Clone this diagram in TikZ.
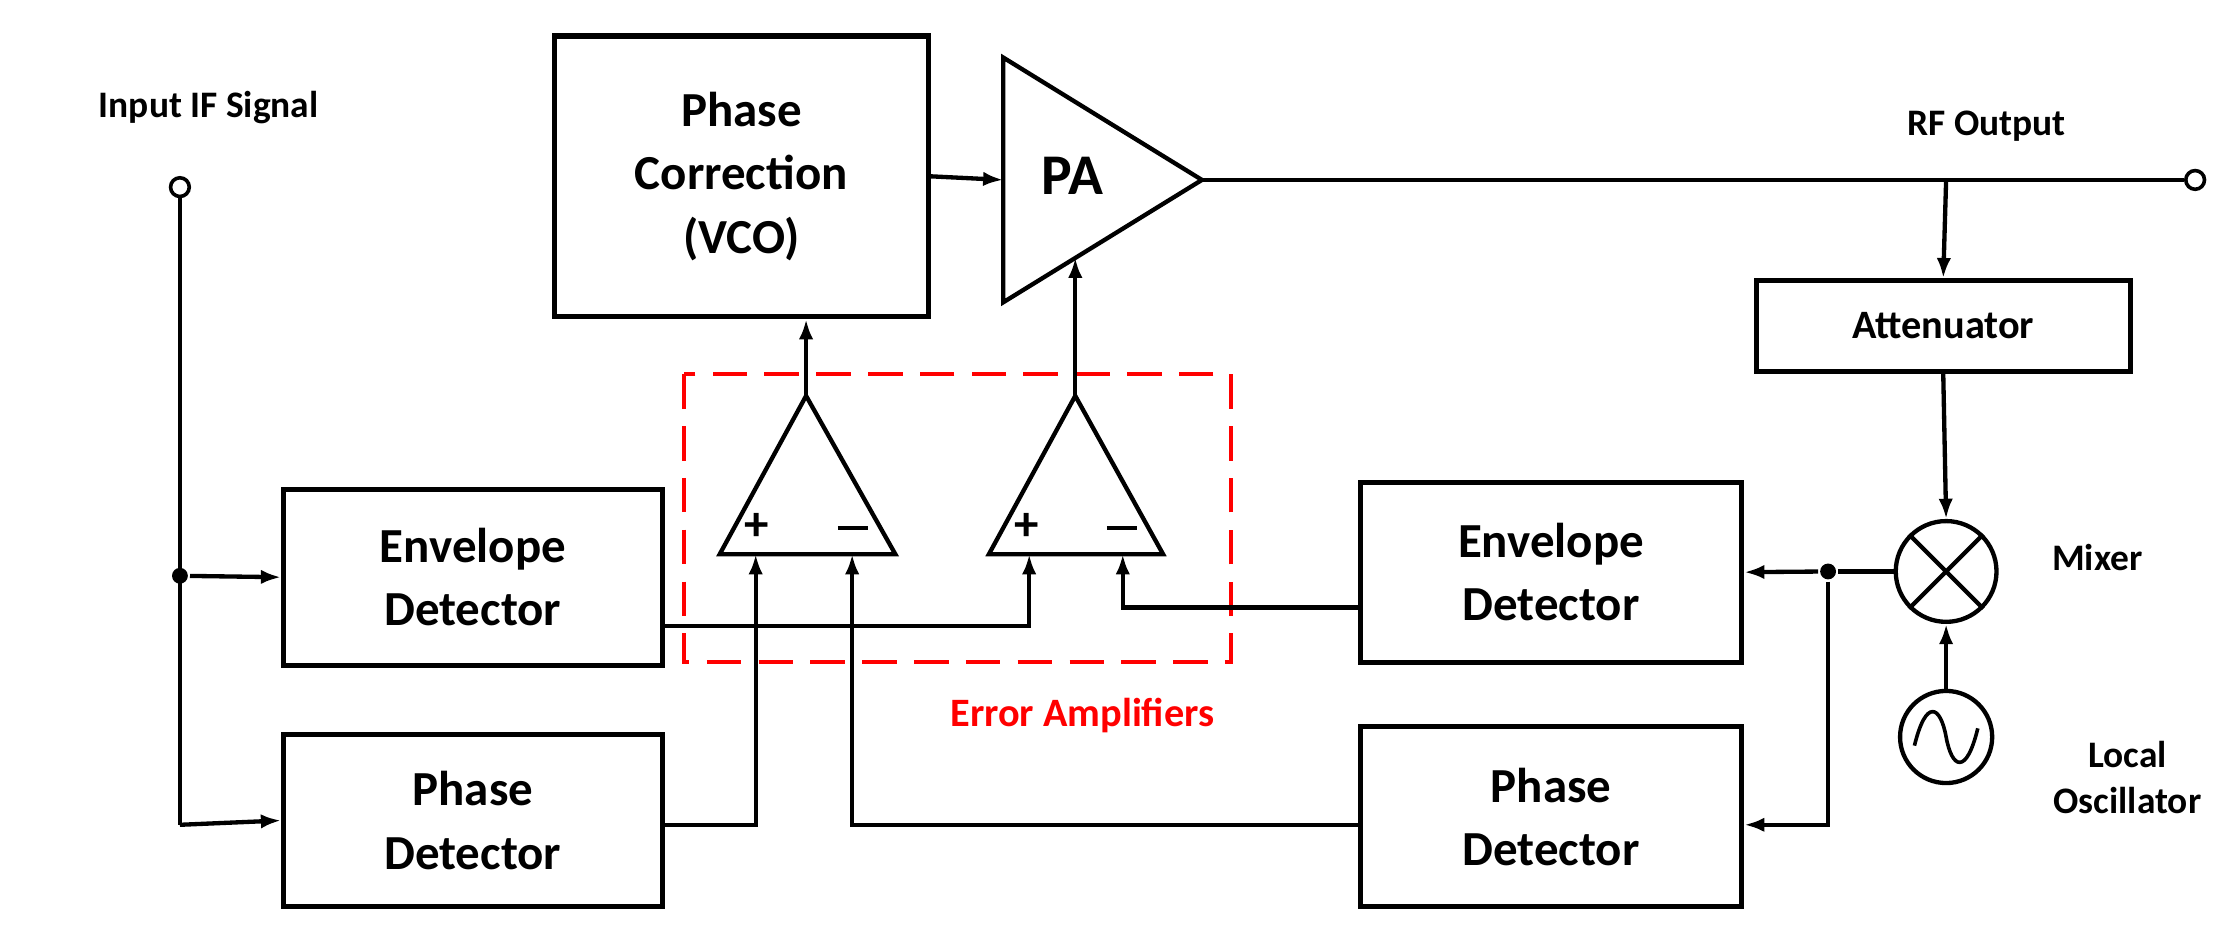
\documentclass[tikz,border=0pt]{standalone}
\usepackage{fontspec}
\setmainfont{Carlito}
\usetikzlibrary{arrows.meta}
\begin{document}
\begin{tikzpicture}[x=1pt,y=-1pt,line width=3pt,
  box/.style={draw,line width=3.5pt,align=center,font=\fontsize{34}{44}\selectfont\bfseries,inner sep=0},
  lab/.style={font=\fontsize{26}{32}\selectfont\bfseries,align=center},
  arr/.style={-{Latex[length=14pt,width=10pt]}},
  dot/.style={circle,fill,inner sep=0,minimum size=11pt},
  sgn/.style={font=\fontsize{34}{40}\selectfont\bfseries}]
\useasboundingbox (0,0) rectangle (1552,650);
% boxes
\node[box,minimum width=263pt,minimum height=122pt] (ed1) at (328.5,401) {Envelope\\Detector};
\node[box,minimum width=263pt,minimum height=120pt] (pd1) at (328.5,570) {Phase\\Detector};
\node[box,minimum width=260pt,minimum height=195pt] (vco) at (515,122.5) {Phase\\Correction\\(VCO)};
\node[box,minimum width=265pt,minimum height=125pt] (ed2) at (1077.5,397.5) {Envelope\\Detector};
\node[box,minimum width=265pt,minimum height=125pt] (pd2) at (1077.5,567.5) {Phase\\Detector};
\node[box,minimum width=260pt,minimum height=63pt,font=\fontsize{28}{34}\selectfont\bfseries] (att) at (1350,226.5) {Attenuator};
% PA
\draw[line width=3pt] (697,40) -- (835,125) -- (697,210) -- cycle;
\node[font=\fontsize{40}{48}\selectfont\bfseries] (pa) at (745,122) {PA};
\coordinate (paout) at (835,125);
\coordinate (pain) at (697,125);
\coordinate (pabot) at (747,179);
% terminals
\node[circle,draw,line width=2.5pt,inner sep=0,minimum size=13pt] (tin) at (125,130) {};
\node[circle,draw,line width=2.5pt,inner sep=0,minimum size=13pt] (tout) at (1525,125) {};
\node[lab] (lin) at (145,75) {Input IF Signal};
\node[lab] (lout) at (1380,88) {RF Output};
% mixer and LO
\node[circle,draw,line width=3pt,minimum size=70pt,inner sep=0] (mix) at (1352,397) {};
\draw (mix.north west) -- (mix.south east) (mix.north east) -- (mix.south west);
\node[circle,draw,line width=3pt,minimum size=64pt,inner sep=0] (lo) at (1352,512) {};
\draw[line width=2.5pt] (1330,518) .. controls (1338,485) and (1348,490) .. (1352,512) .. controls (1356,534) and (1366,539) .. (1374,506);
\node[lab] (lmix) at (1457,387) {Mixer};
\node[lab] (llo) at (1478,540) {Local\\Oscillator};
% op-amps
\draw (560,275) -- (622,385) -- (500,385) -- cycle;
\draw (747,275) -- (808,385) -- (687,385) -- cycle;
\node[sgn] at (526,366) {+};
\node[sgn] at (713,366) {+};
\draw (582,367) -- (603,367);
\draw (769,367) -- (790,367);
\coordinate (o1) at (560,275);
\coordinate (o2) at (747,275);
% error amp box
\draw[red,dash pattern=on 24pt off 12pt,line width=3pt] (475,260) rectangle (855,460);
\node[lab,red,font=\fontsize{28}{34}\selectfont\bfseries] (lerr) at (752,497) {Error Amplifiers};
% connections
\node[dot] (d1) at (125,400) {};
\draw (tin) -- (125,573) coordinate (c1);
\draw[arr] (d1) -- (ed1.west);
\draw[arr] (c1) -- (pd1.west);
\draw[arr] (vco.east) -- (pain);
\draw (paout) -- (tout);
\coordinate (br) at (1352,125);
\draw[arr] (br) -- (att.north);
\draw[arr] (att.south) -- (mix.north);
\draw[arr] (lo.north) -- (mix.south);
\node[dot] (d2) at (1270,397) {};
\draw (mix.west) -- (d2);
\draw[arr] (d2) -- (ed2.east);
\draw[arr] (d2) |- (pd2.east |- 0,573);
\draw[arr] (o1) -- (vco.south -| o1);
\draw[arr] (o2) -- (pabot);
\draw[arr] (pd1.east |- 0,573) -| (525,385);
\draw[arr] (pd2.west |- 0,573) -| (592,385);
\draw[arr] (ed1.east |- 0,435) -| (715,385);
\draw[arr] (ed2.west |- 0,422) -| (780,385);
\end{tikzpicture}
\end{document}
